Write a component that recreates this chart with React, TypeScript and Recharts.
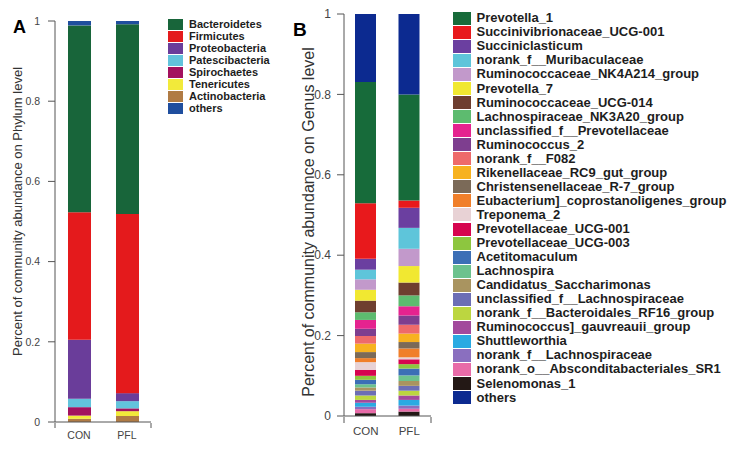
import { BarChart, Bar, XAxis, YAxis } from "recharts";
import type { CSSProperties } from "react";

const groups = ["CON", "PFL"];
const yTicks = [0, 0.2, 0.4, 0.6, 0.8, 1];
const edgeTicks = [0, 1, 2];

// panel A - phylum level (legend order; "others" sits on top of the stack)
const phylumNames = [
  "Bacteroidetes",
  "Firmicutes",
  "Proteobacteria",
  "Patescibacteria",
  "Spirochaetes",
  "Tenericutes",
  "Actinobacteria",
  "others",
];
const phylumCON = [0.466, 0.318, 0.147, 0.021, 0.021, 0.008, 0.008, 0.011];
const phylumPFL = [0.473, 0.447, 0.02, 0.018, 0.007, 0.012, 0.015, 0.008];
const phylumColors = [
  "#18653a",
  "#e41a1c",
  "#6a3d9a",
  "#62c3dc",
  "#a3115e",
  "#f2ea3a",
  "#b07b44",
  "#1f4e9e",
];

// panel B - genus level
const genusNames = [
  "Prevotella_1",
  "Succinivibrionaceae_UCG-001",
  "Succiniclasticum",
  "norank_f__Muribaculaceae",
  "Ruminococcaceae_NK4A214_group",
  "Prevotella_7",
  "Ruminococcaceae_UCG-014",
  "Lachnospiraceae_NK3A20_group",
  "unclassified_f__Prevotellaceae",
  "Ruminococcus_2",
  "norank_f__F082",
  "Rikenellaceae_RC9_gut_group",
  "Christensenellaceae_R-7_group",
  "Eubacterium]_coprostanoligenes_group",
  "Treponema_2",
  "Prevotellaceae_UCG-001",
  "Prevotellaceae_UCG-003",
  "Acetitomaculum",
  "Lachnospira",
  "Candidatus_Saccharimonas",
  "unclassified_f__Lachnospiraceae",
  "norank_f__Bacteroidales_RF16_group",
  "Ruminococcus]_gauvreauii_group",
  "Shuttleworthia",
  "norank_f__Lachnospiraceae",
  "norank_o__Absconditabacteriales_SR1",
  "Selenomonas_1",
  "others",
];
const genusCON = [
  0.302, 0.138, 0.027, 0.024, 0.026, 0.027, 0.029, 0.019, 0.022, 0.018, 0.019,
  0.021, 0.015, 0.01, 0.019, 0.015, 0.01, 0.011, 0.008, 0.008, 0.012, 0.011,
  0.007, 0.01, 0.006, 0.01, 0.007, 0.169,
];
const genusPFL = [
  0.264, 0.018, 0.05, 0.052, 0.043, 0.041, 0.032, 0.027, 0.023, 0.023, 0.022,
  0.021, 0.016, 0.022, 0.005, 0.012, 0.011, 0.017, 0.014, 0.012, 0.012, 0.012,
  0.011, 0.014, 0.008, 0.007, 0.011, 0.2,
];
const genusColors = [
  "#176b3a",
  "#e8191c",
  "#6b3fa0",
  "#5ec5da",
  "#c299cb",
  "#f1e831",
  "#6e3e2f",
  "#5dbb6f",
  "#e5238f",
  "#7e3e8f",
  "#ee6a6a",
  "#f7b21f",
  "#7b6a58",
  "#f07f2a",
  "#e8d2d5",
  "#d6054f",
  "#8dc63f",
  "#3c6fb6",
  "#6cc28e",
  "#a99460",
  "#6c6eb5",
  "#bcd640",
  "#a24a9c",
  "#2aaae2",
  "#8a6fbf",
  "#e86ba8",
  "#231815",
  "#0c2a90",
];

const phylumData = groups.map((g, i) => {
  const vals = i === 0 ? phylumCON : phylumPFL;
  const row: Record<string, string | number> = { group: g };
  phylumNames.forEach((_, k) => (row["p" + k] = vals[k]));
  return row;
});

const genusData = groups.map((g, i) => {
  const vals = i === 0 ? genusCON : genusPFL;
  const row: Record<string, string | number> = { group: g };
  genusNames.forEach((_, k) => (row["g" + k] = vals[k]));
  return row;
});

// bottom-up stacking order: last legend taxon first, ..., first taxon, then "others" on top
const stackOrder = (n: number) => {
  const idx = Array.from({ length: n - 1 }, (_, i) => n - 2 - i);
  idx.push(n - 1);
  return idx;
};

const FONT = "'Liberation Sans', Arial, sans-serif";
const AXIS = "#555";

const Legend = ({
  names,
  colors,
  style,
  rowH,
  boxW,
  boxH,
  fontSize,
}: {
  names: string[];
  colors: string[];
  style: CSSProperties;
  rowH: number;
  boxW: number;
  boxH: number;
  fontSize: number;
}) => (
  <div style={{ position: "absolute", fontFamily: FONT, ...style }}>
    {names.map((n, i) => (
      <div
        key={n}
        style={{ display: "flex", alignItems: "center", height: rowH, whiteSpace: "nowrap" }}
      >
        <div style={{ width: boxW, height: boxH, background: colors[i], marginRight: 6 }} />
        <span style={{ fontSize, fontWeight: 700, color: "#1d1d1d", lineHeight: rowH + "px" }}>
          {n}
        </span>
      </div>
    ))}
  </div>
);

const panelLetter: CSSProperties = {
  position: "absolute",
  fontFamily: FONT,
  fontWeight: 900,
  lineHeight: "18px",
  color: "#000",
};

export default function App() {
  return (
    <div
      style={{
        position: "absolute",
        left: 0,
        top: 0,
        width: 733,
        height: 453,
        background: "#fff",
        fontFamily: FONT,
      }}
    >
      {/* panel A */}
      <div style={{ position: "absolute", left: 0, top: 0 }}>
        <BarChart
          width={160}
          height={453}
          data={phylumData}
          margin={{ top: 21, right: 9, bottom: 29, left: 0 }}
          barSize={23}
        >
          <XAxis
            dataKey="group"
            height={1}
            tickLine={false}
            tickSize={5}
            tickMargin={5}
            stroke={AXIS}
            axisLine={{ stroke: AXIS, strokeWidth: 1 }}
            tick={{ fontSize: 10.5, fill: "#444" }}
          />
          <XAxis
            xAxisId="edge"
            type="number"
            domain={[0, 2]}
            ticks={edgeTicks}
            tickFormatter={() => ""}
            height={1}
            axisLine={false}
            tickSize={5}
            tickLine={{ stroke: AXIS }}
            allowDataOverflow
          />
          <YAxis
            width={55}
            domain={[0, 1]}
            ticks={yTicks}
            tickSize={7}
            tickMargin={8}
            stroke={AXIS}
            axisLine={{ stroke: AXIS, strokeWidth: 1 }}
            tickLine={{ stroke: AXIS }}
            tick={{ fontSize: 10.5, fill: "#444" }}
            label={{
              value: "Percent of community abundance on Phylum level",
              angle: -90,
              position: "center",
              dx: -10.5,
              dy: -10,
              style: { textAnchor: "middle", fontSize: 13, fill: "#333" },
            }}
          />
          {stackOrder(phylumNames.length).map((k) => (
            <Bar
              key={phylumNames[k]}
              dataKey={"p" + k}
              name={phylumNames[k]}
              stackId="a"
              fill={phylumColors[k]}
              isAnimationActive={false}
            />
          ))}
        </BarChart>
      </div>
      <div style={{ ...panelLetter, left: 13, top: 18, fontSize: 18 }}>A</div>
      <Legend
        names={phylumNames}
        colors={phylumColors}
        style={{ left: 168, top: 18 }}
        rowH={12}
        boxW={15}
        boxH={11}
        fontSize={11}
      />

      {/* panel B */}
      <div style={{ position: "absolute", left: 290, top: 0 }}>
        <BarChart
          width={150}
          height={453}
          data={genusData}
          margin={{ top: 14, right: 9, bottom: 35, left: 0 }}
          barSize={21}
        >
          <XAxis
            dataKey="group"
            height={1}
            tickLine={false}
            tickSize={6}
            tickMargin={5}
            stroke={AXIS}
            axisLine={{ stroke: AXIS, strokeWidth: 1 }}
            tick={{ fontSize: 11.5, fill: "#444" }}
          />
          <XAxis
            xAxisId="edge"
            type="number"
            domain={[0, 2]}
            ticks={edgeTicks}
            tickFormatter={() => ""}
            height={1}
            axisLine={false}
            tickSize={6}
            tickLine={{ stroke: AXIS }}
            allowDataOverflow
          />
          <YAxis
            width={54}
            domain={[0, 1]}
            ticks={yTicks}
            tickSize={7}
            tickMargin={6}
            stroke={AXIS}
            axisLine={{ stroke: AXIS, strokeWidth: 1 }}
            tickLine={{ stroke: AXIS }}
            tick={{ fontSize: 12, fill: "#444" }}
            label={{
              value: "Percent of community abundance on Genus level",
              angle: -90,
              position: "center",
              dx: -9,
              dy: 7,
              style: { textAnchor: "middle", fontSize: 16, fill: "#333" },
            }}
          />
          {stackOrder(genusNames.length).map((k) => (
            <Bar
              key={genusNames[k]}
              dataKey={"g" + k}
              name={genusNames[k]}
              stackId="b"
              fill={genusColors[k]}
              isAnimationActive={false}
            />
          ))}
        </BarChart>
      </div>
      <div style={{ ...panelLetter, left: 293, top: 21, fontSize: 19 }}>B</div>
      <Legend
        names={genusNames}
        colors={genusColors}
        style={{ left: 453, top: 11.3 }}
        rowH={14.05}
        boxW={17.5}
        boxH={13}
        fontSize={13}
      />
    </div>
  );
}
